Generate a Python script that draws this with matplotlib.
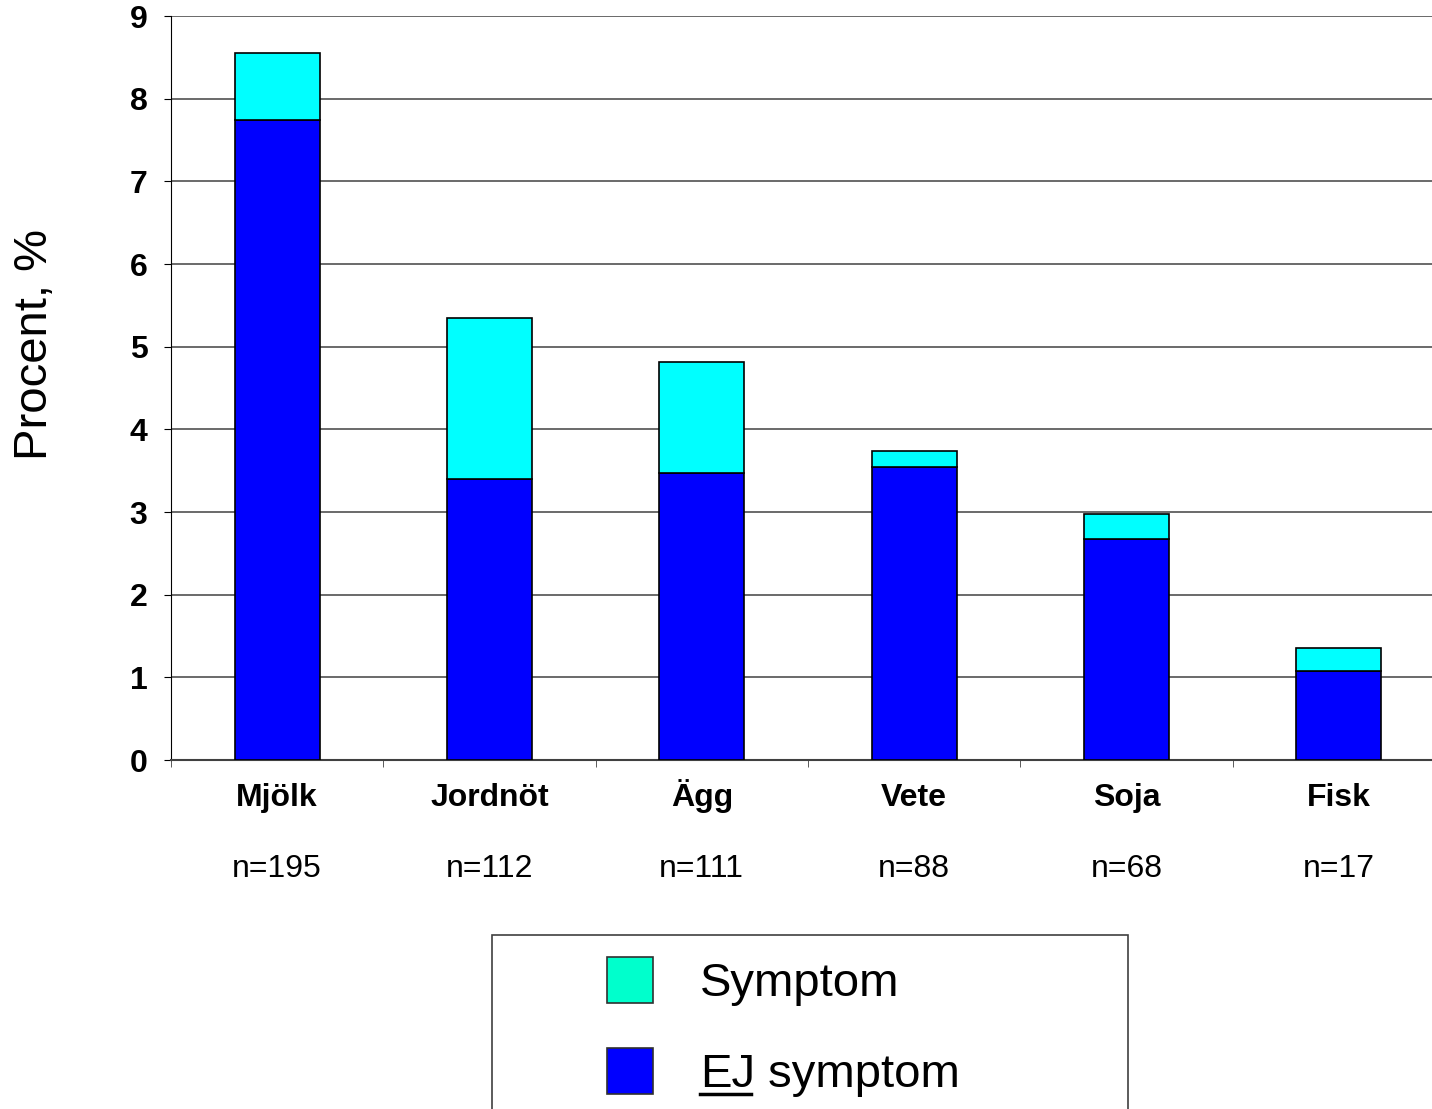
"""Stacked bar chart: food allergy percentages with and without symptoms."""

import matplotlib.pyplot as plt
from matplotlib.patches import Rectangle
from matplotlib.lines import Line2D

plt.rcParams["font.family"] = ["Liberation Sans", "DejaVu Sans"]

categories = ["Mjölk", "Jordnöt", "Ägg", "Vete", "Soja", "Fisk"]
n_labels = ["n=195", "n=112", "n=111", "n=88", "n=68", "n=17"]
ej_symptom = [7.74, 3.40, 3.47, 3.54, 2.67, 1.08]
totals = [8.55, 5.35, 4.81, 3.74, 2.98, 1.35]
symptom = [t - e for t, e in zip(totals, ej_symptom)]

BLUE = "#0000FF"
CYAN = "#00FFFF"
TEAL = "#00FFCC"

W, H = 1432, 1109
fig = plt.figure(figsize=(W / 100, H / 100), dpi=100)
# axes run past the right edge of the picture, as in the original
ax = fig.add_axes([171 / W, 1 - 760 / H, 1274 / W, (760 - 16) / H])

x = list(range(len(categories)))
ax.bar(x, ej_symptom, width=0.40, color=BLUE, edgecolor="black", linewidth=1.2, zorder=3)
ax.bar(x, symptom, bottom=ej_symptom, width=0.40, color=CYAN, edgecolor="black",
       linewidth=1.2, zorder=3)

ax.set_xlim(-0.5, len(categories) - 0.5)
ax.set_ylim(0, 9)
ax.set_yticks(range(10))
ax.yaxis.grid(True, color="#505050", linewidth=1.2, zorder=0)
ax.set_axisbelow(True)
for side in ("top", "right"):
    ax.spines[side].set_visible(False)
ax.spines["left"].set_color("black")
ax.spines["bottom"].set_color("#404040")
ax.spines["bottom"].set_linewidth(1.5)

ax.tick_params(axis="y", length=5, pad=12, labelsize=23)
for lbl in ax.get_yticklabels():
    lbl.set_fontweight("bold")

ax.set_xticks(x)
ax.set_xticklabels([])
ax.tick_params(axis="x", which="major", length=0)
ax.set_xticks([i + 0.5 for i in x[:-1]] + [-0.5], minor=True)
ax.tick_params(axis="x", which="minor", length=5, color="#404040")

xt = ax.get_xaxis_transform()
for i, (cat, n) in enumerate(zip(categories, n_labels)):
    ax.text(i, -(806 - 760) / 744, cat, transform=xt, ha="center", va="baseline",
            fontsize=23, fontweight="bold")
    ax.text(i, -(869 - 760) / 744, n, transform=xt, ha="center", va="center",
            fontsize=23)

fig.text(35 / W, 1 - 345 / H, "Procent, %", rotation=90, ha="center", va="center",
         fontsize=34)

# legend, partly cut off by the bottom edge as in the original
frame = Rectangle((492 / W, -0.05), (1128 - 492) / W, (1109 - 935) / H + 0.05,
                  transform=fig.transFigure, facecolor="white", edgecolor="#404040",
                  linewidth=1.2)
fig.patches.append(frame)
entries = [(TEAL, None, "Symptom", 980), (BLUE, "EJ", " symptom", 1071)]
for color, under, rest, yc in entries:
    fig.patches.append(Rectangle((607 / W, 1 - (yc + 23) / H), 46 / W, 46 / H,
                                 transform=fig.transFigure, facecolor=color,
                                 edgecolor="#303030", linewidth=1.2))
    ty = 1 - (yc + 4) / H
    if under is None:
        fig.text(700 / W, ty, rest, fontsize=34, va="center")
    else:
        t1 = fig.text(700 / W, ty, under, fontsize=34, va="center")
        fig.canvas.draw()
        bb = t1.get_window_extent()
        fig.text(bb.x1 / W, ty, rest, fontsize=34, va="center")
        yline = 1 - (yc + 23) / H
        fig.lines.append(Line2D([bb.x0 / W, (bb.x1 - 4) / W], [yline, yline],
                                transform=fig.transFigure, color="black", linewidth=2.5))

fig.savefig("out.png", dpi=100)
